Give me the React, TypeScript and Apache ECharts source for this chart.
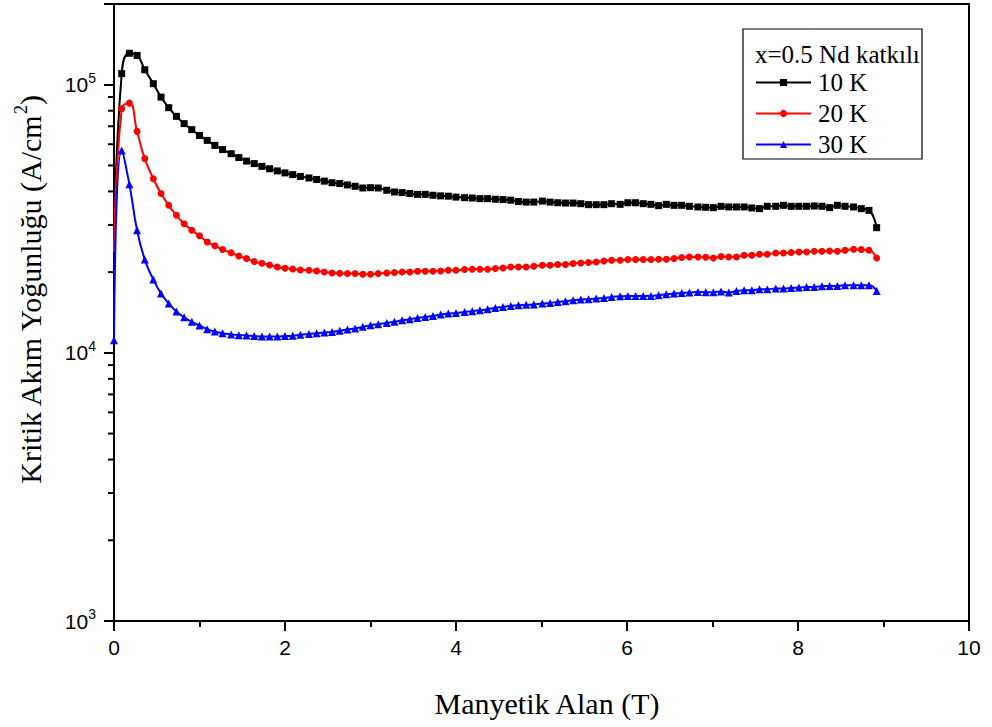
import React, { useEffect, useRef } from "react";
import * as echarts from "echarts";

// Magnetic field (T)
const fieldT = [
  0, 0.09, 0.18, 0.27, 0.36, 0.46, 0.55, 0.64, 0.73, 0.82,
  0.91, 1.0, 1.09, 1.18, 1.27, 1.37, 1.46, 1.55, 1.64, 1.73,
  1.82, 1.91, 2.0, 2.09, 2.18, 2.28, 2.37, 2.46, 2.55, 2.64,
  2.73, 2.82, 2.91, 3.0, 3.09, 3.19, 3.28, 3.37, 3.46, 3.55,
  3.64, 3.73, 3.82, 3.91, 4.0, 4.1, 4.19, 4.28, 4.37, 4.46,
  4.55, 4.64, 4.73, 4.82, 4.91, 5.01, 5.1, 5.19, 5.28, 5.37,
  5.46, 5.55, 5.64, 5.73, 5.82, 5.92, 6.01, 6.1, 6.19, 6.28,
  6.37, 6.46, 6.55, 6.64, 6.73, 6.83, 6.92, 7.01, 7.1, 7.19,
  7.28, 7.37, 7.46, 7.55, 7.64, 7.74, 7.83, 7.92, 8.01, 8.1,
  8.19, 8.28, 8.37, 8.46, 8.55, 8.65, 8.74, 8.83, 8.92,
];

// Critical current density (A/cm^2)
const jc10K = [
  25000, 110000, 131000, 128600, 113700, 100900, 89900, 82100, 76200, 71600,
  68000, 64700, 62000, 59400, 57300, 55300, 53500, 51900, 50800, 49600,
  48600, 47700, 46900, 46200, 45500, 44900, 44300, 43700, 43100, 42800,
  42300, 41800, 41200, 41300, 41200, 40400, 39800, 39600, 39300, 39000,
  39000, 38700, 38500, 38400, 38100, 37900, 37800, 37600, 37600, 37400,
  37300, 37100, 36700, 36500, 36500, 36800, 36500, 36300, 36200, 36200,
  36000, 35700, 35700, 35700, 36000, 35800, 36300, 36300, 36000, 35800,
  35400, 35800, 35500, 35500, 35200, 35000, 34900, 34800, 35200, 35000,
  35000, 35000, 34700, 34500, 35200, 35200, 35500, 35200, 35200, 35200,
  35300, 35200, 34800, 35500, 35200, 35000, 34500, 34000, 29300,
];

const jc20K = [
  23700, 81400, 85400, 67000, 53000, 44600, 39300, 35500, 32600, 30300,
  28660, 27330, 25920, 25090, 24300, 23620, 22960, 22470, 21920, 21580,
  21270, 20910, 20680, 20560, 20380, 20330, 20210, 20030, 19860, 19810,
  19760, 19760, 19640, 19640, 19760, 19860, 19930, 20030, 20030, 20150,
  20150, 20150, 20210, 20330, 20330, 20450, 20500, 20500, 20500, 20630,
  20730, 20910, 20910, 20910, 21040, 21220, 21220, 21350, 21350, 21530,
  21640, 21720, 21830, 22020, 22150, 22150, 22280, 22280, 22280, 22280,
  22340, 22340, 22470, 22670, 22790, 22790, 22730, 22570, 22870, 22790,
  22790, 23120, 23120, 23310, 23310, 23580, 23580, 23660, 23780, 23780,
  23930, 23930, 23990, 23930, 24130, 24340, 24280, 24130, 22590,
];

const jc30K = [
  11150, 56800, 42500, 28660, 22280, 18770, 16650, 15280, 14260, 13580,
  13050, 12650, 12250, 12010, 11840, 11720, 11640, 11610, 11560, 11520,
  11520, 11520, 11560, 11590, 11690, 11760, 11840, 11910, 11960, 12090,
  12220, 12330, 12500, 12680, 12790, 12930, 13050, 13230, 13350, 13500,
  13620, 13730, 13900, 14020, 14090, 14210, 14300, 14420, 14550, 14710,
  14840, 14960, 15050, 15100, 15140, 15280, 15360, 15490, 15580, 15710,
  15810, 15850, 15950, 16030, 16160, 16260, 16300, 16300, 16300, 16300,
  16410, 16550, 16650, 16730, 16790, 16880, 16840, 16840, 16950, 16790,
  17020, 17130, 17130, 17270, 17270, 17380, 17380, 17470, 17530, 17620,
  17620, 17720, 17770, 17770, 17880, 17880, 17880, 17880, 17020,
];

const seriesNames = ["10 K", "20 K", "30 K"];
const legendTitle = "x=0.5 Nd katkılı";
const xTitle = "Manyetik Alan (T)";
const yTitleMain = "Kritik Akım Yoğunluğu (A/cm";
const yTitleSup = "2";

// log minor tick positions on the y axis
const yMinorTicks = [
  2000, 3000, 4000, 5000, 6000, 7000, 8000, 9000,
  20000, 30000, 40000, 50000, 60000, 70000, 80000, 90000,
];

const SERIF = '"Liberation Serif", "Times New Roman", serif';
const SANS = '"Liberation Sans", Arial, sans-serif';

export default function App() {
  const ref = useRef<HTMLDivElement>(null);

  useEffect(() => {
    if (!ref.current) return;
    const chart = echarts.init(ref.current, undefined, { renderer: "svg" });

    const build = (vals: number[], hideFirst: boolean) =>
      fieldT.map((t, i) =>
        i === 0 && hideFirst ? { value: [t, vals[i]], symbol: "none" } : { value: [t, vals[i]] }
      );

    const lineSeries = (name: string, data: any[], color: string, symbol: string, size: number) => ({
      name,
      type: "line",
      data,
      smooth: true,
      symbol,
      symbolSize: size,
      showSymbol: true,
      showAllSymbol: true,
      lineStyle: { color, width: 2 },
      itemStyle: { color },
      emphasis: { disabled: true },
      z: 3,
    });

    const baseGraphic: any[] = [
      {
        type: "rect",
        shape: { x: 743, y: 29, width: 179, height: 130 },
        style: { fill: "#fff", stroke: "#000", lineWidth: 1.2 },
        z: 1,
      },
      {
        type: "text",
        x: 755,
        y: 54,
        style: {
          text: legendTitle,
          fontSize: 25,
          fontFamily: SERIF,
          fill: "#000",
          align: "left",
          verticalAlign: "middle",
        },
        z: 5,
      },
      {
        type: "text",
        x: 547,
        y: 703,
        style: {
          text: xTitle,
          fontSize: 30,
          fontFamily: SERIF,
          fill: "#000",
          align: "center",
          verticalAlign: "middle",
        },
      },
      {
        type: "text",
        x: 30,
        y: 290,
        rotation: Math.PI / 2,
        style: {
          text: `{a|${yTitleMain}}{s|${yTitleSup}}{a|)}`,
          align: "center",
          verticalAlign: "middle",
          fill: "#000",
          rich: {
            a: { fontSize: 30, fontFamily: SERIF, fill: "#000", lineHeight: 36 },
            s: { fontSize: 18, fontFamily: SERIF, fill: "#000", lineHeight: 18, verticalAlign: "top" },
          },
        },
      },
    ];

    const option: any = {
      animation: false,
      backgroundColor: "#fff",
      grid: {
        left: 114,
        right: 23,
        top: 4,
        bottom: 106,
        show: true,
        borderColor: "#000",
        borderWidth: 2,
        backgroundColor: "transparent",
      },
      xAxis: {
        type: "value",
        min: 0,
        max: 10,
        interval: 2,
        axisLine: { show: true, lineStyle: { color: "#000", width: 2 } },
        axisTick: { show: true, length: 10, lineStyle: { color: "#000", width: 2 } },
        minorTick: { show: true, splitNumber: 2, length: 6, lineStyle: { color: "#000", width: 2 } },
        splitLine: { show: false },
        minorSplitLine: { show: false },
        axisLabel: { color: "#000", fontSize: 21, fontFamily: SANS, margin: 16 },
      },
      yAxis: {
        type: "log",
        logBase: 10,
        min: 1000,
        max: 200000,
        axisLine: { show: true, lineStyle: { color: "#000", width: 2 } },
        axisTick: { show: true, length: 10, lineStyle: { color: "#000", width: 2 } },
        splitLine: { show: false },
        axisLabel: {
          margin: 18,
          color: "#000",
          formatter: (v: number) => {
            const lg = Math.log10(v);
            const e = Math.round(lg);
            if (Math.abs(lg - e) > 1e-6) return "";
            return `{b|10}{s|${e}}`;
          },
          rich: {
            b: { fontSize: 21, fontFamily: SANS, color: "#000", lineHeight: 28 },
            s: { fontSize: 14, fontFamily: SANS, color: "#000", lineHeight: 14, verticalAlign: "top" },
          },
        },
      },
      legend: {
        data: seriesNames,
        orient: "vertical",
        left: 755,
        top: 70,
        padding: 0,
        itemWidth: 55,
        itemHeight: 9,
        itemGap: 6,
        selectedMode: false,
        textStyle: { fontFamily: SERIF, fontSize: 25, color: "#000", lineHeight: 24, padding: [0, 0, 0, 2] },
      },
      graphic: baseGraphic,
      series: [
        lineSeries(seriesNames[0], build(jc10K, true), "#000000", "rect", 7),
        lineSeries(seriesNames[1], build(jc20K, true), "#ff0000", "circle", 7),
        lineSeries(seriesNames[2], build(jc30K, false), "#0000ff", "triangle", 8),
      ],
    };

    chart.setOption(option);

    // log-scale minor ticks on the left axis, placed through the axis scale
    const x0 = chart.convertToPixel({ xAxisIndex: 0 }, 0) as number;
    const tickLines = yMinorTicks.map((v) => {
      const py = chart.convertToPixel({ yAxisIndex: 0 }, v) as number;
      return {
        type: "line",
        shape: { x1: x0 - 6, y1: py, x2: x0, y2: py },
        style: { stroke: "#000", lineWidth: 2 },
        z: 10,
      };
    });
    chart.setOption({ graphic: [...baseGraphic, ...tickLines] });

    return () => chart.dispose();
  }, []);

  return (
    <div
      ref={ref}
      style={{ position: "fixed", left: 0, top: 0, width: 992, height: 727, background: "#fff" }}
    />
  );
}
